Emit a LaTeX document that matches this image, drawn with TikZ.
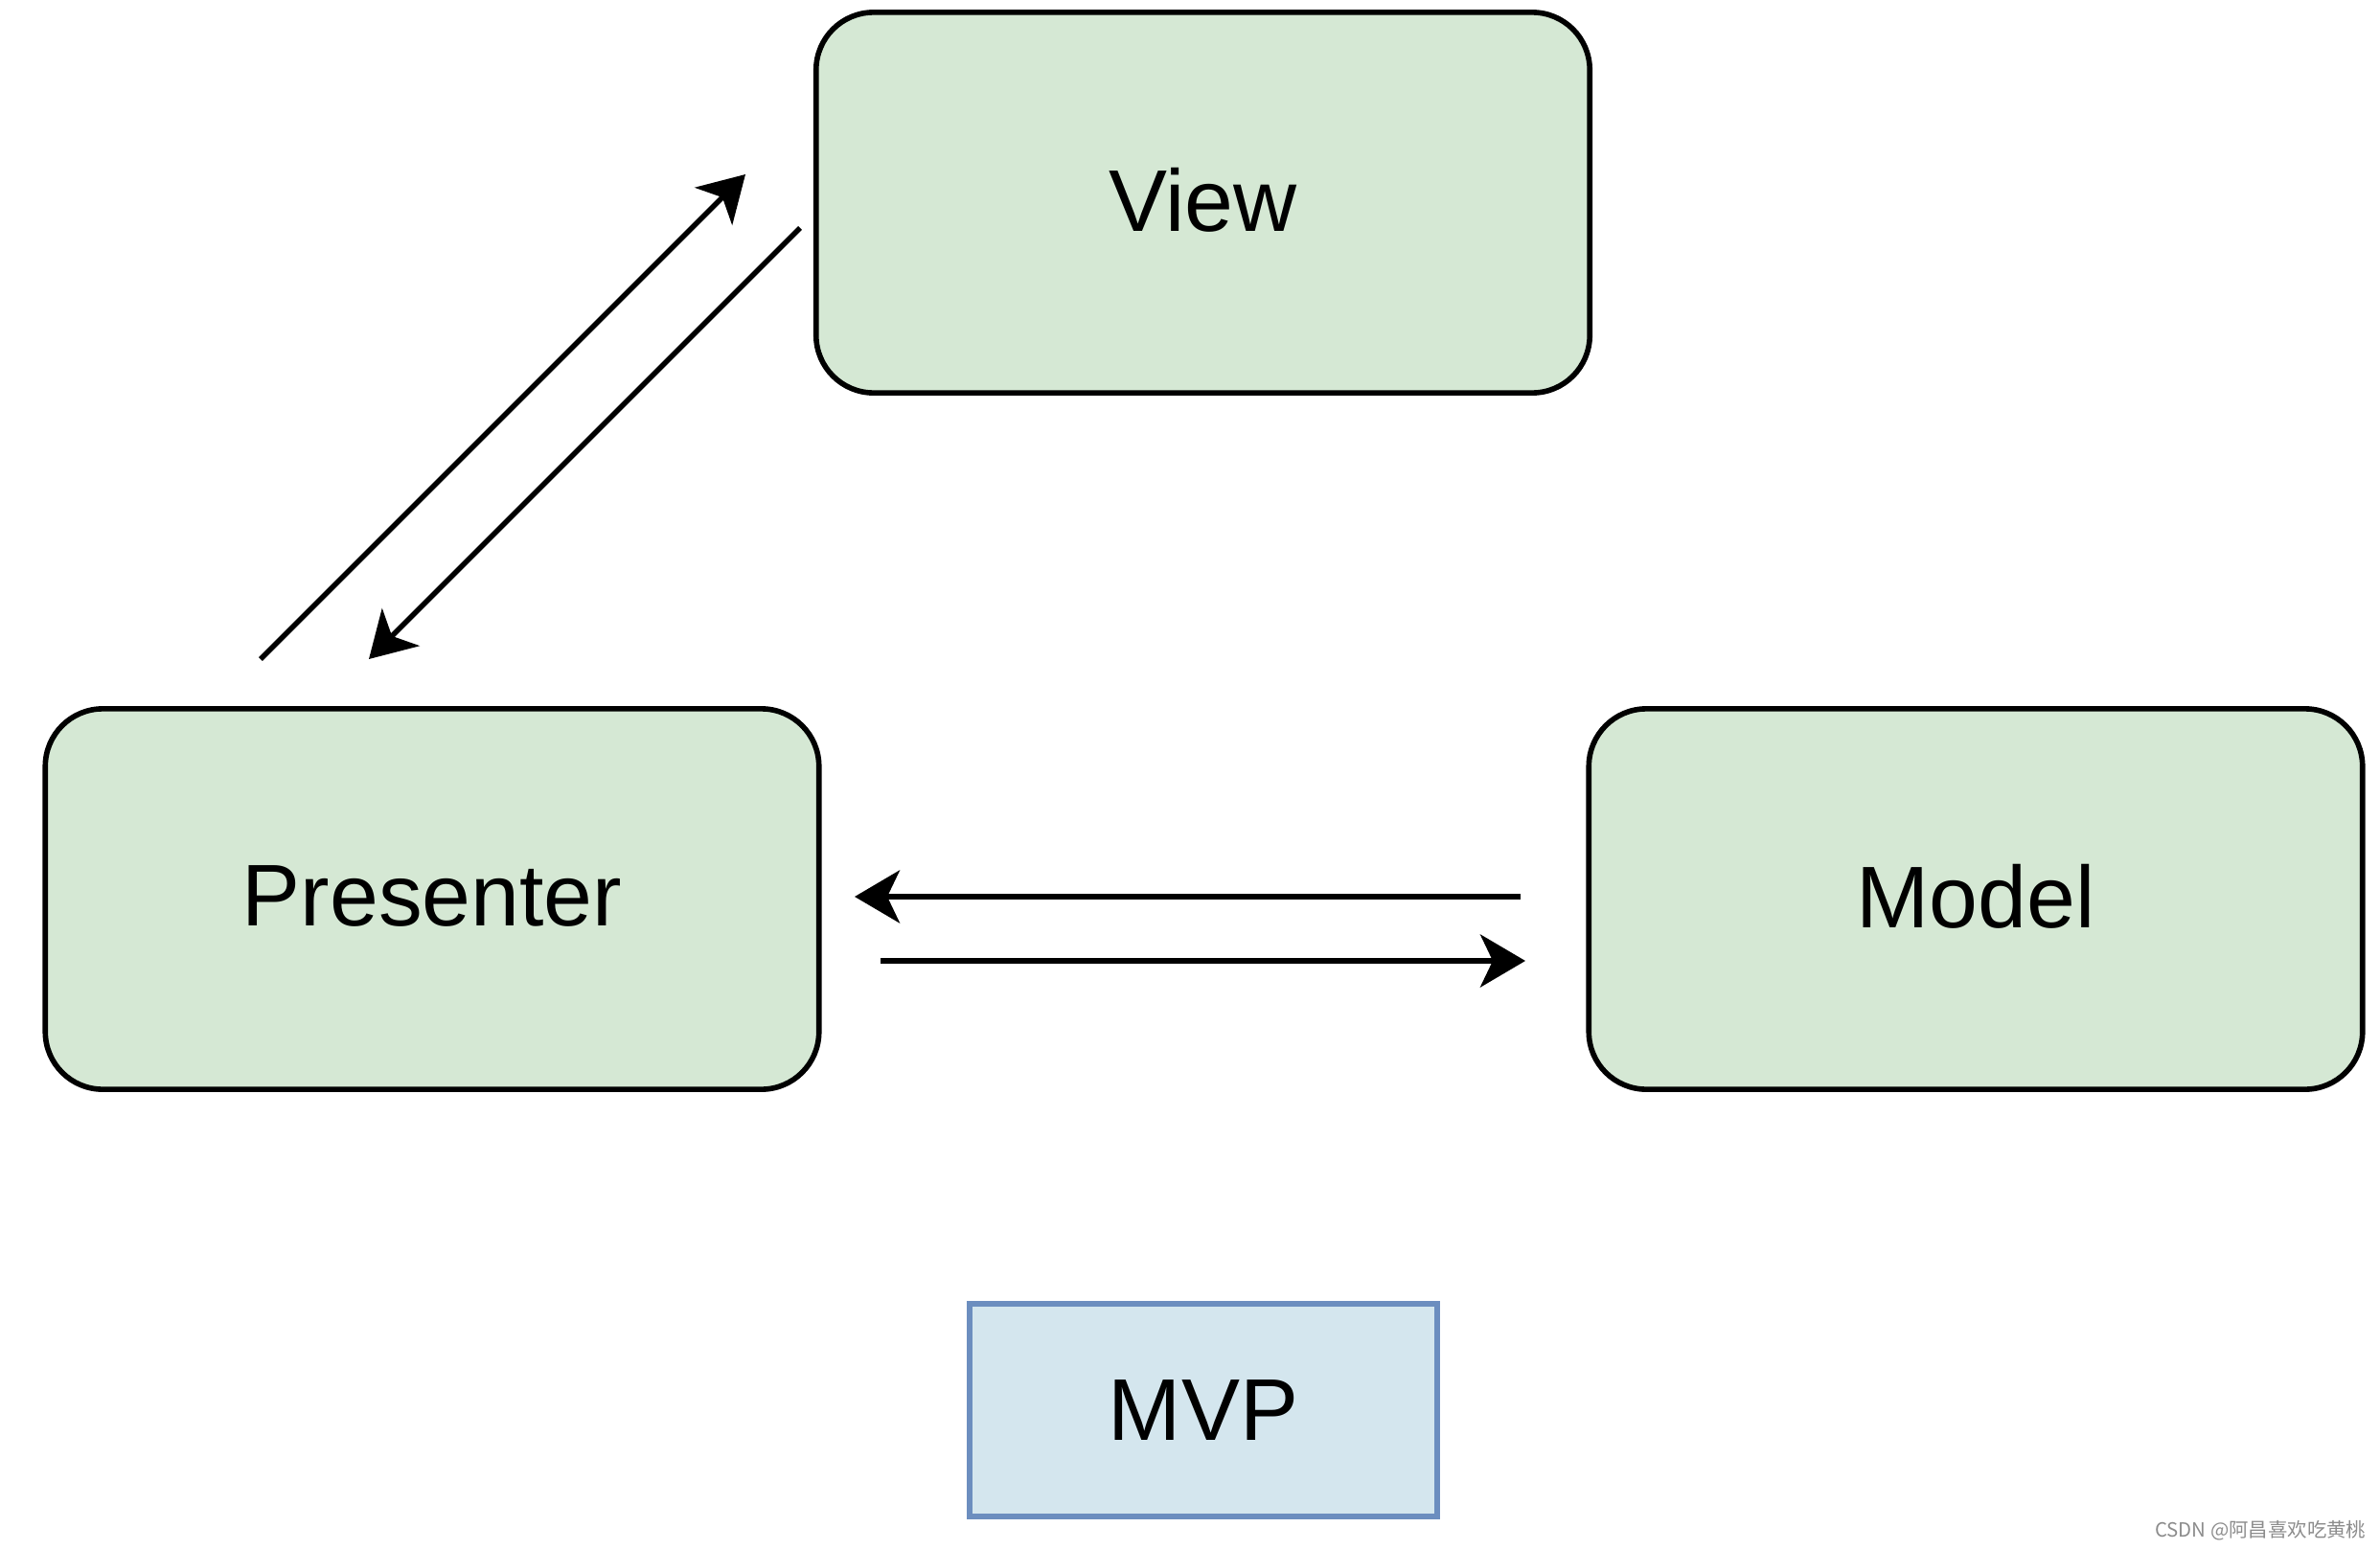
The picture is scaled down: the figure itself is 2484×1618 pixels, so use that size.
\documentclass[tikz,border=0pt]{standalone}
\usepackage{fontspec}
\setmainfont{Liberation Sans}
\newfontfamily\cjkfont{Noto Sans CJK SC}
\usetikzlibrary{arrows.meta}
\definecolor{boxgreen}{HTML}{D5E8D4}
\definecolor{boxblue}{HTML}{D4E6EE}
\definecolor{edgeblue}{HTML}{6C8EBF}
\begin{document}
\begin{tikzpicture}[x=0.01cm,y=-0.01cm,
  comp/.style={draw=black, line width=1.6pt, fill=boxgreen, rounded corners=0.6cm,
    minimum width=8.07cm, minimum height=3.97cm, inner sep=0pt,
    font=\fontsize{26}{30}\selectfont},
  titlebox/.style={draw=edgeblue, line width=1.6pt, fill=boxblue,
    minimum width=4.88cm, minimum height=2.22cm, inner sep=0pt,
    font=\fontsize{26}{30}\selectfont},
  flow/.style={line width=1.6pt, -{Stealth[length=0.47cm, width=0.55cm, inset=0.13cm]}}]
\useasboundingbox (0,0) rectangle (2484,1618);
\node[comp] (view) at (1255.5,211.5) {\raisebox{2pt}{View}};
\node[comp] (presenter) at (451,938.5) {\raisebox{2pt}{Presenter}};
\node[comp] (model) at (2062,938.5) {\raisebox{2pt}{Model}};
\node[titlebox] (mvp) at (1256,1472) {MVP};
\coordinate (pv1) at (272,688);
\coordinate (pv2) at (778,182);
\coordinate (vp1) at (835,238);
\coordinate (vp2) at (385,688);
\coordinate (mp1) at (1587,936);
\coordinate (mp2) at (892,936);
\coordinate (pm1) at (919,1003);
\coordinate (pm2) at (1592,1003);
\draw[flow] (pv1) -- (pv2);
\draw[flow] (vp1) -- (vp2);
\draw[flow] (mp1) -- (mp2);
\draw[flow] (pm1) -- (pm2);
\node[anchor=east, text=black!45, inner sep=0pt, font=\cjkfont\fontsize{5.8}{7}\selectfont] (mark) at (2470,1598) {CSDN @阿昌喜欢吃黄桃};
\end{tikzpicture}
\end{document}
